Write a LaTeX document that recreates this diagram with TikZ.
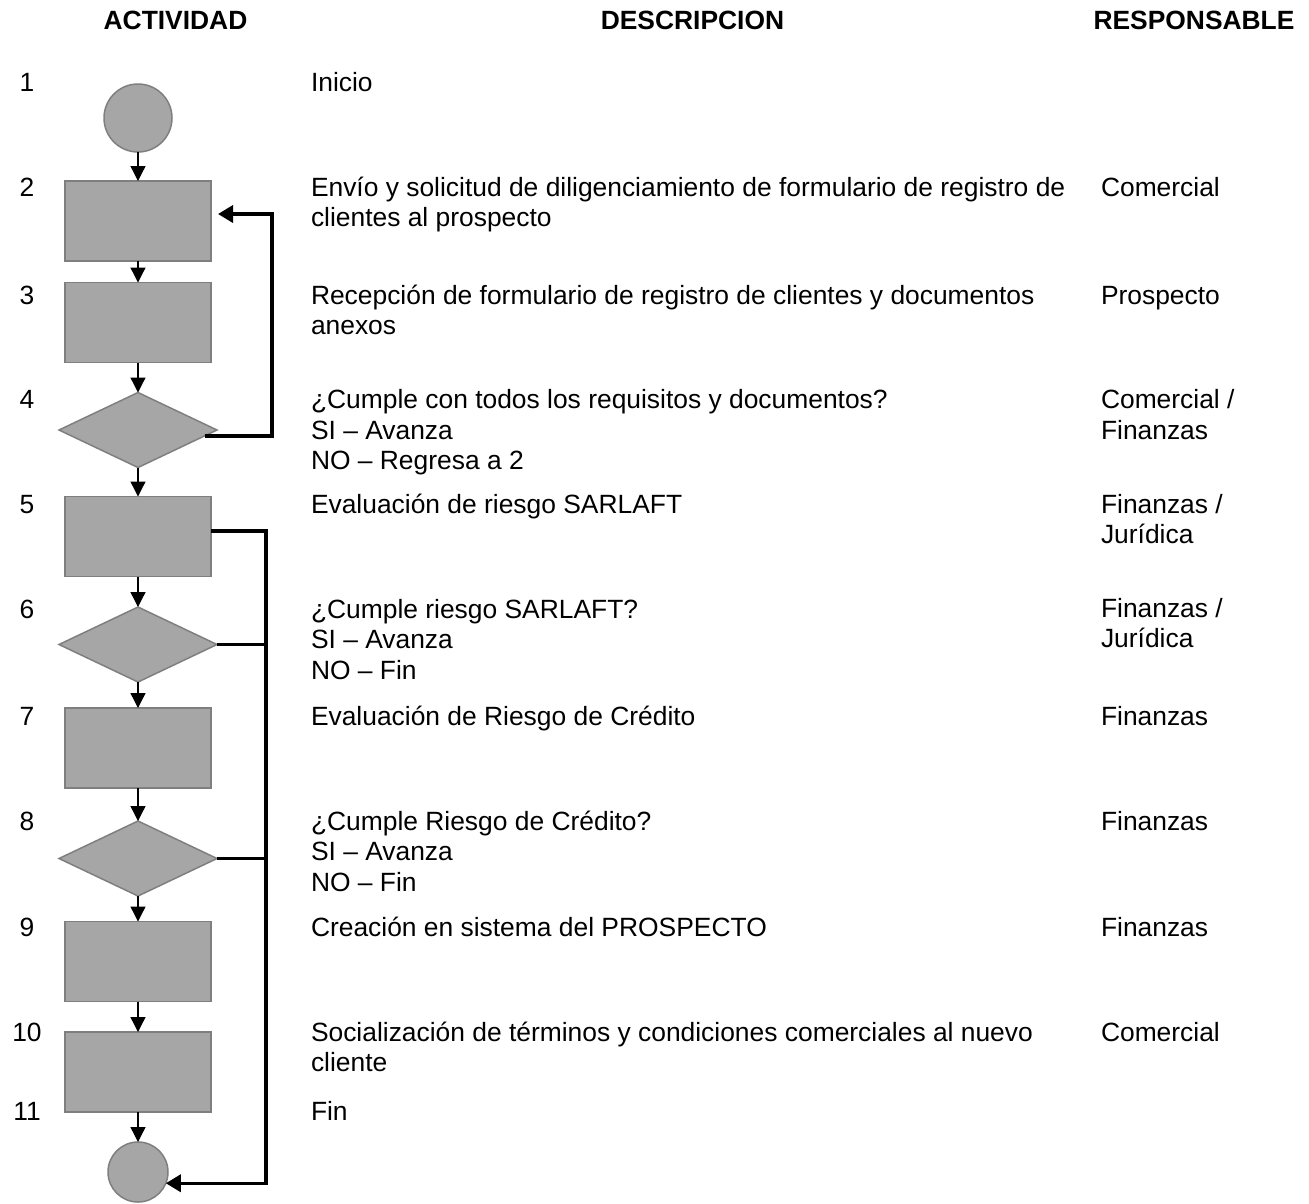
\documentclass[tikz,border=0pt]{standalone}
\usepackage{fontspec}
\setmainfont{Liberation Sans}
\usetikzlibrary{shapes.geometric,arrows.meta,calc}
\definecolor{shapefill}{HTML}{A6A6A6}
\definecolor{shapeedge}{HTML}{7F7F7F}
% multi-line cell, aligned on the baseline of its first line
\newcommand{\cellrows}[1]{\begin{tabular}[t]{@{}l@{}}#1\end{tabular}}

\begin{document}
\begin{tikzpicture}[x=1pt,y=-1pt,
  every node/.style={inner sep=0pt, outer sep=0pt},
  shapebase/.style={draw=shapeedge, fill=shapefill, line width=1.5pt},
  process/.style={shapebase, rectangle, minimum width=146pt, minimum height=80pt},
  decision/.style={shapebase, diamond, minimum width=158pt, minimum height=75pt},
  terminal/.style={shapebase, circle},
  flow/.style={line width=1.3pt, -{Triangle[length=15pt,width=15pt]}},
  loopline/.style={line width=3.5pt},
  looparrow/.style={loopline, -{Triangle[length=15pt,width=17pt]}},
  txt/.style={anchor=base west, font=\fontsize{26.4}{30.5}\selectfont},
  num/.style={anchor=base, font=\fontsize{26.4}{30.5}\selectfont},
  head/.style={anchor=base, font=\bfseries\fontsize{26.4}{30.5}\selectfont},
]
\useasboundingbox (0,0) rectangle (1309,1203);

% column headings
\node[head] (hAct)  at (175.5,29.5) {ACTIVIDAD};
\node[head] (hDesc) at (692.5,29.5) {DESCRIPCION};
\node[head] (hResp) at (1194,29.5)  {RESPONSABLE};

% flow shapes
\node[terminal, minimum size=68pt] (n1) at (138,118) {};
\node[process]  (n2)  at (138,221)    {};
\node[process]  (n3)  at (138,322.5)  {};
\node[decision] (n4)  at (138,430)    {};
\node[process]  (n5)  at (138,536.5)  {};
\node[decision] (n6)  at (138,644.5)  {};
\node[process]  (n7)  at (138,748)    {};
\node[decision] (n8)  at (138,858.5)  {};
\node[process]  (n9)  at (138,961.5)  {};
\node[process]  (n10) at (138,1072)   {};
\node[terminal, minimum size=60pt] (n11) at (138,1172) {};

% main sequence
\foreach \a/\b in {n1/n2,n2/n3,n3/n4,n4/n5,n5/n6,n6/n7,n7/n8,n8/n9,n9/n10,n10/n11}
  \draw[flow] (\a) -- (\b);

% return path from step 4 to step 2
\coordinate (fbTop) at (272,214);
\draw[looparrow] (n4.-5) -| (fbTop) -- ($(n2.east |- fbTop)+(7,0)$);

% exit path to the end
\coordinate (busTop) at (266,531);
\draw[looparrow] (n5.east |- busTop) -- (busTop) |- (n11.-22);
\draw[loopline] (n6.east) -- (n6.east -| busTop);
\draw[loopline] (n8.east) -- (n8.east -| busTop);

% step numbers
\node[num] (k1)  at (27,91)   {1};
\node[num] (k2)  at (27,196)  {2};
\node[num] (k3)  at (27,304)  {3};
\node[num] (k4)  at (27,408.5){4};
\node[num] (k5)  at (27,513.5){5};
\node[num] (k6)  at (27,618)  {6};
\node[num] (k7)  at (27,725)  {7};
\node[num] (k8)  at (27,830)  {8};
\node[num] (k9)  at (27,936)  {9};
\node[num] (k10) at (27,1041) {10};
\node[num] (k11) at (27,1120) {11};

% descriptions
\node[txt] (d1)  at (311,91)    {Inicio};
\node[txt] (d2)  at (311,196)   {\cellrows{Envío y solicitud de diligenciamiento de formulario de registro de\\clientes al prospecto}};
\node[txt] (d3)  at (311,304)   {\cellrows{Recepción de formulario de registro de clientes y documentos\\anexos}};
\node[txt] (d4)  at (311,408.5) {\cellrows{¿Cumple con todos los requisitos y documentos?\\SI – Avanza\\NO – Regresa a 2}};
\node[txt] (d5)  at (311,513.5) {Evaluación de riesgo SARLAFT};
\node[txt] (d6)  at (311,618)   {\cellrows{¿Cumple riesgo SARLAFT?\\SI – Avanza\\NO – Fin}};
\node[txt] (d7)  at (311,725)   {Evaluación de Riesgo de Crédito};
\node[txt] (d8)  at (311,830)   {\cellrows{¿Cumple Riesgo de Crédito?\\SI – Avanza\\NO – Fin}};
\node[txt] (d9)  at (311,936)   {Creación en sistema del PROSPECTO};
\node[txt] (d10) at (311,1041)  {\cellrows{Socialización de términos y condiciones comerciales al nuevo\\cliente}};
\node[txt] (d11) at (311,1120)  {Fin};

% responsible areas
\node[txt] (r2)  at (1101,196)   {Comercial};
\node[txt] (r3)  at (1101,304)   {Prospecto};
\node[txt] (r4)  at (1101,408.5) {\cellrows{Comercial /\\Finanzas}};
\node[txt] (r5)  at (1101,513)   {\cellrows{Finanzas /\\Jurídica}};
\node[txt] (r6)  at (1101,617)   {\cellrows{Finanzas /\\Jurídica}};
\node[txt] (r7)  at (1101,725)   {Finanzas};
\node[txt] (r8)  at (1101,830)   {Finanzas};
\node[txt] (r9)  at (1101,936)   {Finanzas};
\node[txt] (r10) at (1101,1041)  {Comercial};
\end{tikzpicture}
\end{document}
